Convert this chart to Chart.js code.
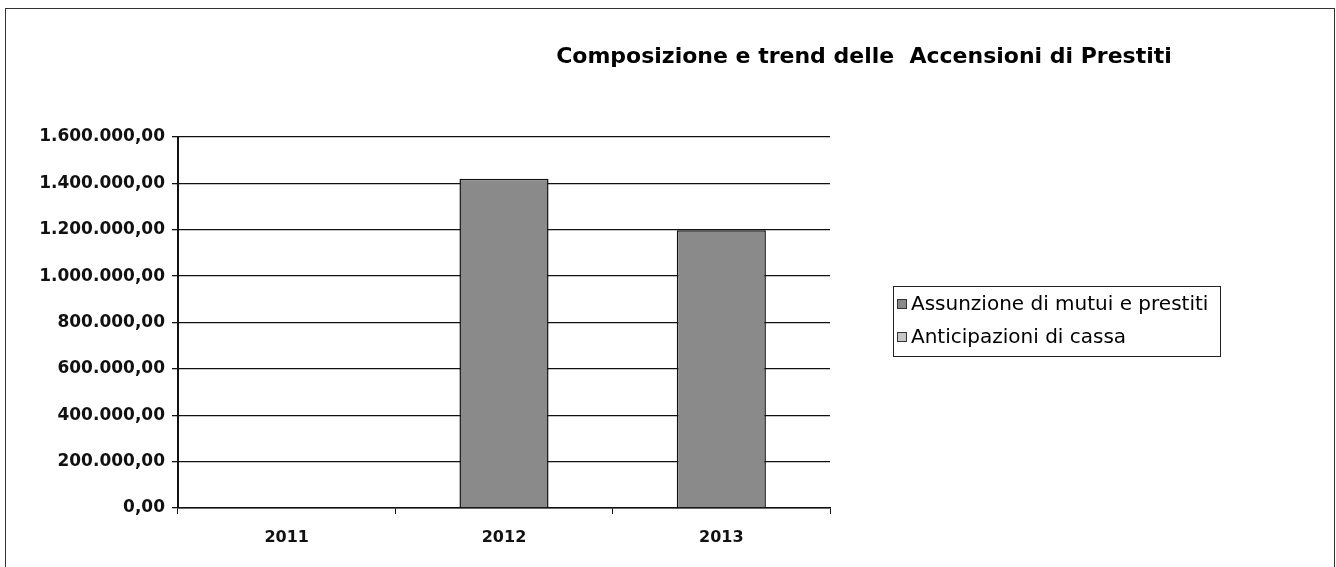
<!DOCTYPE html>
<html>
<head>
<meta charset="utf-8">
<script src="https://cdn.jsdelivr.net/npm/chart.js@4/dist/chart.umd.min.js"></script>
<style>
  html, body { margin: 0; padding: 0; background: #fff; }
  #wrap { position: relative; width: 1336px; height: 567px; overflow: hidden; }
  #frame { position: absolute; left: 5px; top: 8px; width: 1328px; height: 600px; border: 1px solid #333; pointer-events: none; }
</style>
</head>
<body>
<div id="wrap">
  <canvas id="myChart" width="1336" height="567"></canvas>
  <div id="frame"></div>
</div>
<script>
  // data
  var years = ['2011', '2012', '2013'];
  var mutui = [0, 1420000, 1198000];
  var cassa = [0, 0, 0];
  var seriesNames = ['Assunzione di mutui e prestiti', 'Anticipazioni di cassa'];
  var titleText = 'Composizione e trend delle  Accensioni di Prestiti';

  var FONT = '"DejaVu Sans", Arial, sans-serif';

  // 1.600.000,00 style numbers
  function itNum(v) {
    var parts = Math.round(v).toString().replace(/\B(?=(\d{3})+(?!\d))/g, '.');
    return parts + ',00';
  }

  // title and boxed legend, placed like the original sheet
  var decor = {
    id: 'decor',
    afterDraw: function (chart) {
      var c = chart.ctx;
      c.save();
      c.fillStyle = '#000';
      c.font = 'bold 22px ' + FONT;
      c.textAlign = 'center';
      c.textBaseline = 'middle';
      c.fillText(titleText, 864, 57);

      // legend box
      c.strokeStyle = '#222';
      c.lineWidth = 1;
      c.strokeRect(893.5, 286.5, 327, 70);
      c.font = '20px ' + FONT;
      c.textAlign = 'left';
      chart.data.datasets.forEach(function (ds, i) {
        var y = 304 + i * 33;
        c.fillStyle = ds.backgroundColor;
        c.fillRect(897, y - 5, 10, 10);
        c.strokeStyle = '#333';
        c.strokeRect(897.5, y - 4.5, 9, 9);
        c.fillStyle = '#000';
        c.fillText(ds.label, 911, y + 1);
      });
      c.restore();
    }
  };

  var ctx = document.getElementById('myChart');
  var myChart = new Chart(ctx, {
    type: 'bar',
    data: {
      labels: years,
      datasets: [
        {
          label: seriesNames[0],
          data: mutui,
          backgroundColor: '#8a8a8a',
          borderColor: '#111',
          borderWidth: 1.5
        },
        {
          label: seriesNames[1],
          data: cassa,
          backgroundColor: '#c6c6c6',
          borderColor: '#111',
          borderWidth: 0
        }
      ]
    },
    options: {
      responsive: false,
      animation: false,
      layout: { padding: { left: 0, right: 506, top: 137, bottom: 0 } },
      datasets: { bar: { barPercentage: 0.41, categoryPercentage: 1 } },
      plugins: {
        legend: { display: false },
        title: { display: false },
        tooltip: { enabled: false }
      },
      scales: {
        x: {
          stacked: true,
          afterFit: function (s) { s.height = 59; },
          grid: { drawOnChartArea: false, drawTicks: true, tickLength: 6, color: '#111', offset: true },
          border: { color: '#111', width: 1.5 },
          ticks: { color: '#111', padding: 14, font: { family: FONT, size: 16, weight: 'bold' } }
        },
        y: {
          stacked: true,
          min: 0,
          max: 1600000,
          afterFit: function (s) { s.width = 178; },
          grid: { color: '#111', lineWidth: 1.3, tickLength: 6 },
          border: { color: '#111', width: 2 },
          ticks: {
            stepSize: 200000,
            color: '#111',
            padding: 7,
            font: { family: FONT, size: 17, weight: 'bold' },
            callback: function (v) { return itNum(v); }
          }
        }
      }
    },
    plugins: [decor]
  });
</script>
</body>
</html>
